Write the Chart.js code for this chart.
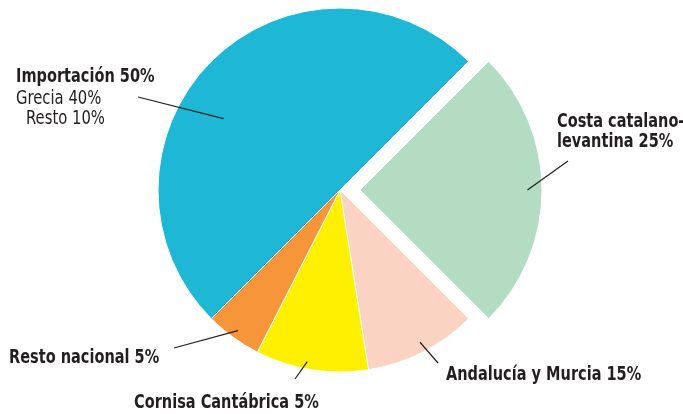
<!DOCTYPE html>
<html>
<head>
<meta charset="utf-8">
<title>Procedencia</title>
<script src="https://cdn.jsdelivr.net/npm/chart.js@4/dist/chart.umd.min.js"></script>
<style>
  html, body { margin: 0; padding: 0; background: #fff; }
  #wrap { width: 683px; height: 414px; }
</style>
</head>
<body>
<div id="wrap"><canvas id="pie"></canvas></div>
<script>
// slices clockwise, starting at the upper-right boundary
var categories = ['Costa catalano-levantina', 'Andalucía y Murcia', 'Cornisa Cantábrica', 'Resto nacional', 'Importación'];
var values     = [25, 10, 10, 5, 50];          // sizes as drawn in the picture
var labelPct   = ['25%', '15%', '5%', '5%', '50%']; // percentages as printed
var colors     = ['#b3dcc3', '#fad3c2', '#fff000', '#f7953a', '#1fb7d6'];
var offsets    = [80, 0, 0, 0, 0];
var importSub  = ['Grecia 40%', 'Resto 10%'];

// label layout: text lines (x, baseline, bold), leader end, where the leader starts inside the slice
var labelLayout = [
  { lines: [['Costa catalano-', 557, 127, true], ['levantina ' + labelPct[0], 557, 147, true]], end: [568, 161], frac: 0.5, r: 0.92 },
  { lines: [[categories[1] + ' ' + labelPct[1], 446, 380, true]], end: [438, 363], frac: 0.48, r: 0.945 },
  { lines: [[categories[2] + ' ' + labelPct[2], 134, 408, true]], end: [295, 379], frac: 0.55, r: 0.96 },
  { lines: [[categories[3] + ' ' + labelPct[3], 9, 363, true]], end: [174, 348], frac: 0.5, r: 0.955 },
  { lines: [[categories[4] + ' ' + labelPct[4], 16, 82, true], [importSub[0], 16, 104, false], [importSub[1], 26, 124, false]], end: [138, 97], frac: 0.425, r: 0.75 }
];

var FONT = '"Liberation Sans Narrow", "DejaVu Sans Condensed", "Roboto", sans-serif';

var labelPlugin = {
  id: 'sliceLabels',
  afterDatasetsDraw: function(chart) {
    var ctx = chart.ctx;
    var arcs = chart.getDatasetMeta(0).data;
    ctx.save();
    ctx.strokeStyle = '#231f20';
    ctx.lineWidth = 1.2;
    ctx.fillStyle = '#231f20';
    ctx.textBaseline = 'alphabetic';
    arcs.forEach(function(arc, i) {
      var L = labelLayout[i];
      var p = arc.getProps(['x', 'y', 'startAngle', 'endAngle', 'outerRadius']);
      var mid = (p.startAngle + p.endAngle) / 2;
      var sh = (offsets[i] || 0) / 4;
      var cx = p.x + Math.cos(mid) * sh, cy = p.y + Math.sin(mid) * sh;
      var a = p.startAngle + (p.endAngle - p.startAngle) * L.frac;
      var rr = p.outerRadius * L.r;
      ctx.beginPath();
      ctx.moveTo(cx + Math.cos(a) * rr, cy + Math.sin(a) * rr);
      ctx.lineTo(L.end[0], L.end[1]);
      ctx.stroke();
      L.lines.forEach(function(ln) {
        // the printed face is a condensed one, squeeze horizontally
        ctx.save();
        ctx.font = (ln[3] ? 'bold ' : '') + '19px ' + FONT;
        ctx.translate(ln[1], ln[2]);
        ctx.scale(ln[3] ? 0.85 : 0.867, 1);
        ctx.fillText(ln[0], 0, 0);
        ctx.restore();
      });
    });
    ctx.restore();
  }
};

new Chart(document.getElementById('pie'), {
  type: 'pie',
  data: {
    labels: categories,
    datasets: [{
      data: values,
      backgroundColor: colors,
      borderColor: '#ffffff',
      borderWidth: 1,
      offset: offsets
    }]
  },
  options: {
    responsive: true,
    maintainAspectRatio: false,
    animation: false,
    rotation: 45,
    radius: 182,
    layout: { padding: { top: 0, left: 0, right: 3, bottom: 34 } },
    events: [],
    plugins: { legend: { display: false }, tooltip: { enabled: false } }
  },
  plugins: [labelPlugin]
});
</script>
</body>
</html>
